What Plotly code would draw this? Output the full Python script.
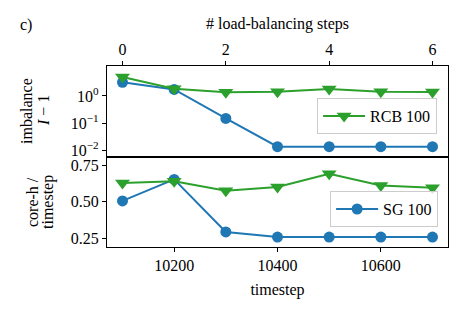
import plotly.graph_objects as go

steps = [0, 1, 2, 3, 4, 5, 6]
timesteps = [10100, 10200, 10300, 10400, 10500, 10600, 10700]

imb_sg = [3.2, 1.75, 0.148, 0.0133, 0.0133, 0.0133, 0.0133]
imb_rcb = [5.0, 1.85, 1.37, 1.44, 1.8, 1.44, 1.4]

core_sg = [0.505, 0.652, 0.293, 0.258, 0.258, 0.258, 0.258]
core_rcb = [0.628, 0.64, 0.575, 0.60, 0.69, 0.61, 0.595]

imb_ticks = [1, 0.1, 0.01]
imb_ticktext = ["10<sup>0</sup>", "10<sup>−1</sup>", "10<sup>−2</sup>"]
core_ticks = [0.25, 0.50, 0.75]
step_ticks = [0, 2, 4, 6]
time_ticks = [10200, 10400, 10600]

BLUE = "#1f77b4"
GREEN = "#2ca02c"
FONT = "Liberation Serif, Times New Roman, serif"

fig = go.Figure()

def add(x, y, color, symbol, size, name, xa, ya, show, legend):
    fig.add_trace(go.Scatter(
        x=x, y=y, mode="lines+markers", name=name,
        line=dict(color=color, width=2),
        marker=dict(color=color, symbol=symbol, size=size),
        xaxis=xa, yaxis=ya, showlegend=show, legend=legend))

add(steps, imb_sg, BLUE, "circle", 11, "SG 100", "x", "y", False, "legend")
add(steps, imb_rcb, GREEN, "triangle-down", 13, "RCB 100", "x", "y", True, "legend")
add(timesteps, core_sg, BLUE, "circle", 11, "SG 100", "x2", "y2", True, "legend2")
add(timesteps, core_rcb, GREEN, "triangle-down", 13, "RCB 100", "x2", "y2", False, "legend2")

axis_common = dict(showline=True, linecolor="black", linewidth=1.2, mirror=True,
                   ticks="outside", ticklen=4, tickwidth=1, tickcolor="black",
                   showgrid=False, zeroline=False, automargin=False,
                   tickfont=dict(family=FONT, size=16, color="black"))

legend_common = dict(xanchor="right", yanchor="bottom", itemwidth=42,
                     bgcolor="rgba(255,255,255,0.8)", bordercolor="#cccccc",
                     borderwidth=1, font=dict(family=FONT, size=16))

split = 0.497
fig.update_layout(
    width=466, height=318,
    margin=dict(l=107, r=18, t=66, b=71, autoexpand=False),
    paper_bgcolor="white", plot_bgcolor="white",
    font=dict(family=FONT, size=16, color="black"),
    xaxis=dict(axis_common, anchor="y", domain=[0, 1], side="top",
               range=[-0.3, 6.3], tickvals=step_ticks,
               title=dict(text="# load-balancing steps", standoff=6,
                          font=dict(family=FONT, size=16))),
    yaxis=dict(axis_common, anchor="x", domain=[split, 1], type="log",
               range=[-2.26, 1.11], tickvals=imb_ticks, ticktext=imb_ticktext),
    xaxis2=dict(axis_common, anchor="y2", domain=[0, 1],
                range=[10070, 10730], tickvals=time_ticks, tickformat="d",
                title=dict(text="timestep", standoff=10,
                           font=dict(family=FONT, size=16))),
    yaxis2=dict(axis_common, anchor="x2", domain=[0, split],
                range=[0.19, 0.805], tickvals=core_ticks, tickformat=".2f"),
    legend=dict(legend_common, x=0.968, y=0.624),
    legend2=dict(legend_common, x=0.971, y=0.11),
)

def px_x(p):
    return (p - 107) / 341

def px_y(p):
    return (247 - p) / 181

ann = [
    ("c)", 18, 25, 0, "left"),
    ("imbalance", 26, 111, -90, "center"),
    ("<i>I</i> − 1", 43, 111, -90, "center"),
    ("core-h /", 32, 202, -90, "center"),
    ("timestep", 48, 202, -90, "center"),
]
for text, x, y, ang, xa in ann:
    fig.add_annotation(text=text, xref="paper", yref="paper",
                       x=px_x(x), y=px_y(y), xanchor=xa, yanchor="middle",
                       textangle=ang, showarrow=False,
                       font=dict(family=FONT, size=16, color="black"))

fig.write_html("out.html", config={"displayModeBar": False},
               post_script="document.body.style.margin='0';document.body.style.overflow='hidden';")
